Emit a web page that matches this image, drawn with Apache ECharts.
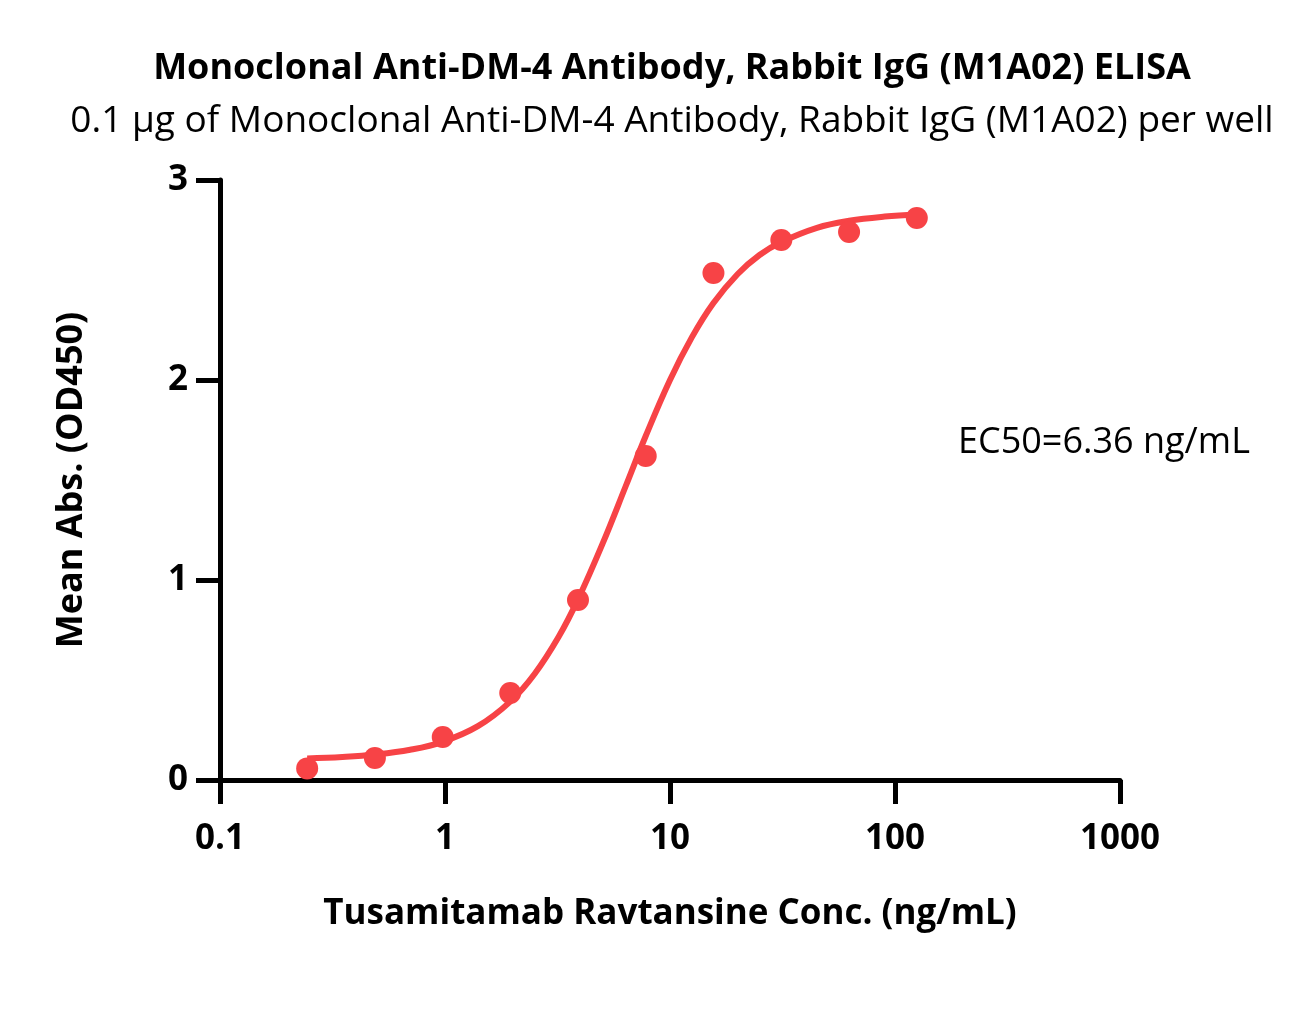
<!DOCTYPE html>
<html>
<head>
<meta charset="utf-8">
<script src="https://cdn.jsdelivr.net/npm/echarts@6/dist/echarts.min.js"></script>
<style>
  html, body { margin: 0; padding: 0; background: #fff; }
  #main { width: 1316px; height: 1035px; }
</style>
</head>
<body>
<div id="main"></div>
<script>
// measured points (ng/mL, OD450)
var conc = [0.244, 0.488, 0.977, 1.95, 3.9, 7.8, 15.6, 31.25, 62.5, 125];
var absorb = [0.058, 0.11, 0.215, 0.435, 0.90, 1.62, 2.535, 2.70, 2.74, 2.81];

// fitted curve
var fitX = [0.244, 0.35, 0.488, 0.7, 0.977, 1.4, 1.95, 2.5, 3.2, 3.9, 5, 6.36, 7.8, 10, 12.5, 15.6, 20, 25, 31.25, 45, 62.5, 90, 125];
var fitY = [0.108, 0.115, 0.127, 0.151, 0.191, 0.269, 0.392, 0.53, 0.716, 0.903, 1.178, 1.47, 1.72, 2.0, 2.213, 2.385, 2.53, 2.625, 2.69, 2.761, 2.796, 2.817, 2.827];

var yTicks = [0, 1, 2, 3];
var xTickLabels = ['0.1', '1', '10', '100', '1000'];

var red = '#F74346';
var font = '"Open Sans"';

var chart = echarts.init(document.getElementById('main'));

var option = {
  backgroundColor: '#fff',
  animation: false,
  grid: { left: 220, right: 196, top: 180, bottom: 255 },
  graphic: [
    {
      type: 'text', x: 672, y: 69,
      style: { text: 'Monoclonal Anti-DM-4 Antibody, Rabbit IgG (M1A02) ELISA', font: 'bold 36px ' + font, fill: '#000', align: 'center', verticalAlign: 'middle' }
    },
    {
      type: 'text', x: 672, y: 121,
      style: { text: '0.1 µg of Monoclonal Anti-DM-4 Antibody, Rabbit IgG (M1A02) per well', font: '37px ' + font, fill: '#000', align: 'center', verticalAlign: 'middle' }
    },
    {
      type: 'text', x: 958, y: 443,
      style: { text: 'EC50=6.36 ng/mL', font: '36px ' + font, fill: '#000', align: 'left', verticalAlign: 'middle' }
    }
  ],
  xAxis: {
    type: 'log',
    logBase: 10,
    min: 0.1,
    max: 1000,
    name: 'Tusamitamab Ravtansine Conc. (ng/mL)',
    nameLocation: 'middle',
    nameGap: 117,
    nameTextStyle: { fontFamily: font, fontWeight: 'bold', fontSize: 35, color: '#000' },
    axisLine: { lineStyle: { color: '#000', width: 5 } },
    axisTick: { length: 24, lineStyle: { color: '#000', width: 5 } },
    minorTick: { show: false },
    splitLine: { show: false },
    axisLabel: {
      margin: 42,
      fontFamily: font, fontWeight: 'bold', fontSize: 35, color: '#000',
      formatter: function (v) {
        var i = Math.round(Math.log10(v)) + 1;
        return xTickLabels[i] || '';
      }
    }
  },
  yAxis: {
    type: 'value',
    min: yTicks[0],
    max: yTicks[yTicks.length - 1],
    interval: 1,
    name: 'Mean Abs. (OD450)',
    nameLocation: 'middle',
    nameGap: 130,
    nameTextStyle: { fontFamily: font, fontWeight: 'bold', fontSize: 36, color: '#000' },
    axisLine: { show: true, lineStyle: { color: '#000', width: 5 } },
    axisTick: { show: true, length: 24, lineStyle: { color: '#000', width: 5 } },
    splitLine: { show: false },
    axisLabel: { margin: 32, fontFamily: font, fontWeight: 'bold', fontSize: 35, color: '#000' }
  },
  series: [
    {
      type: 'line',
      data: fitX.map(function (x, i) { return [x, fitY[i]]; }),
      smooth: 0.4,
      showSymbol: false,
      lineStyle: { color: red, width: 6 },
      z: 2
    },
    {
      type: 'scatter',
      data: conc.map(function (x, i) { return [x, absorb[i]]; }),
      symbolSize: 22,
      itemStyle: { color: red, opacity: 1 },
      z: 3
    }
  ]
};
chart.setOption(option);
</script>
</body>
</html>
